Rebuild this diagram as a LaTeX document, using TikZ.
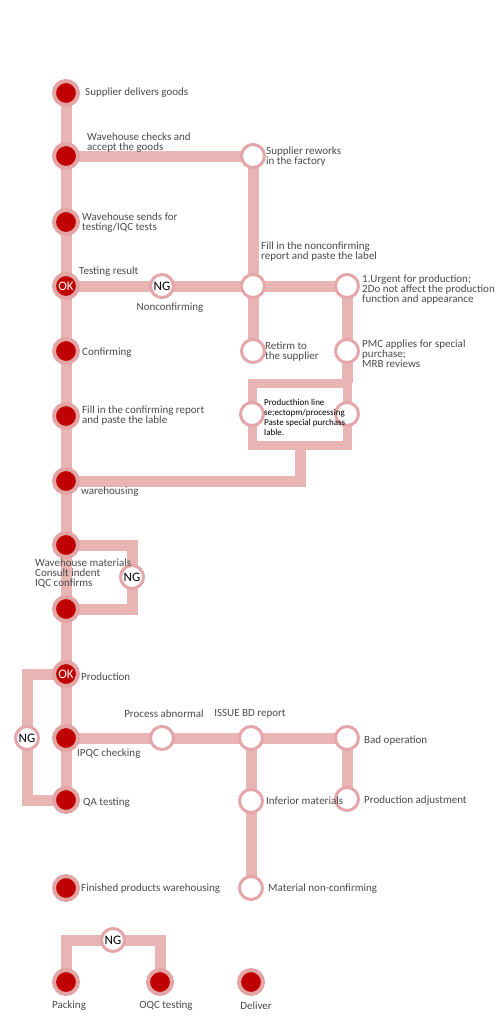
\documentclass[tikz,border=0pt]{standalone}
\usepackage{fontspec}
\setmainfont{Carlito}
\usetikzlibrary{backgrounds}
\definecolor{pipecol}{HTML}{E8B4B4}
\definecolor{halocol}{HTML}{E3A4A6}
\definecolor{darkred}{HTML}{C00000}
\definecolor{ringcol}{HTML}{E4A6A8}
\definecolor{txtcol}{HTML}{4A4A4A}

\begin{document}
\begin{tikzpicture}[x=1pt, y=-1pt,
  solidpt/.style={circle, inner sep=0, minimum size=24, fill=darkred, draw=halocol, line width=4},
  hollowpt/.style={circle, inner sep=0, minimum size=23, fill=white, draw=ringcol, line width=3},
  pipe/.style={draw=pipecol, line width=11},
  frame/.style={draw=pipecol, line width=9},
  lbl/.style={inner sep=0, align=left, text=txtcol, font=\fontsize{11}{10}\selectfont},
  boxlbl/.style={inner sep=0, align=left, text=black, font=\fontsize{9}{10}\selectfont},
  oktxt/.style={text=white, font=\fontsize{13}{13}\selectfont},
  ngtxt/.style={text=black, font=\fontsize{13}{13}\selectfont}]
  \useasboundingbox (0,0) rectangle (500,1034);

  % Incoming goods
  \node[solidpt] (deliv) at (66, 93) {};
  \node[solidpt] (check) at (66, 156) {};
  \node[hollowpt] (rework) at (253, 156) {};
  \node[solidpt] (send) at (66, 222) {};
  \node[solidpt, oktxt] (okone) at (66, 286) {OK};
  \node[hollowpt, ngtxt] (ngone) at (162, 286) {NG};
  \node[hollowpt] (fillnc) at (253, 286) {};
  \node[hollowpt] (urgent) at (347, 286) {};
  \node[hollowpt] (retirm) at (253, 351) {};
  \node[hollowpt] (pmc) at (347, 351) {};
  \node[hollowpt] (boxl) at (252, 414) {};
  \node[hollowpt] (boxr) at (347, 414) {};
  \node[solidpt] (conf) at (66, 351) {};
  \node[solidpt] (fillok) at (66, 416) {};
  \node[solidpt] (whs) at (66, 481) {};
  \coordinate (boxtl) at (252, 383);
  \coordinate (boxbr) at (347, 445);
  \coordinate (stem) at (300, 445);

  \node[lbl, anchor=west] (delivtxt) at (85, 93) {Supplier delivers goods};
  \node[lbl, anchor=west] (checktxt) at (87, 143) {Wavehouse checks and\\accept the goods};
  \node[lbl, anchor=west] (reworktxt) at (266, 157) {Supplier reworks\\in the factory};
  \node[lbl, anchor=west] (sendtxt) at (82, 223) {Wavehouse sends for\\testing/IQC tests};
  \node[lbl, anchor=west] (resulttxt) at (79, 272) {Testing result};
  \node[lbl] (nctxt) at (170, 308) {Nonconfirming};
  \node[lbl, anchor=west] (filltxt) at (261, 252) {Fill in the nonconfirming\\report and paste the label};
  \node[lbl, anchor=west] (urgenttxt) at (362, 290) {1.Urgent for production;\\2Do not affect the production\\function and appearance};
  \node[lbl, anchor=west] (retirmtxt) at (265, 352) {Retirm to\\the supplier};
  \node[lbl, anchor=west] (pmctxt) at (362, 354) {PMC applies for special\\purchase;\\MRB reviews};
  \node[boxlbl, anchor=west] (boxtxt) at (264, 417) {Producthion line\\se;ectopm/processing\\Paste special purchass\\lable.};
  \node[lbl, anchor=west] (conftxt) at (82, 353) {Confirming};
  \node[lbl, anchor=west] (filloktxt) at (82, 416) {Fill in the confirming report\\and paste the lable};
  \node[lbl, anchor=west] (whstxt) at (81, 492) {warehousing};

  % Materials and production
  \node[solidpt] (wmone) at (66, 545) {};
  \node[hollowpt, ngtxt] (ngtwo) at (132, 577) {NG};
  \node[solidpt] (wmtwo) at (66, 609) {};
  \node[solidpt, oktxt] (oktwo) at (66, 674) {OK};
  \node[hollowpt, ngtxt] (ngfour) at (27, 738) {NG};
  \node[solidpt] (ipqc) at (66, 738) {};
  \node[solidpt] (qa) at (66, 800) {};
  \node[hollowpt] (proc) at (162, 738) {};
  \node[hollowpt] (issue) at (251, 738) {};
  \node[hollowpt] (bad) at (347, 738) {};
  \node[hollowpt] (inferior) at (251, 801) {};
  \node[hollowpt] (prodadj) at (347, 799) {};
  \node[hollowpt] (matnc) at (251, 888) {};

  \node[lbl, anchor=west] (wmtxt) at (35, 573) {Wavehouse materials\\Consult indent\\IQC confirms};
  \node[lbl, anchor=west] (prodtxt) at (81, 677) {Production};
  \node[lbl] (proctxt) at (164, 714) {Process abnormal};
  \node[lbl] (issuetxt) at (250, 714) {ISSUE BD report};
  \node[lbl, anchor=west] (ipqctxt) at (77, 754) {IPQC checking};
  \node[lbl, anchor=west] (badtxt) at (364, 741) {Bad operation};
  \node[lbl, anchor=west] (qatxt) at (83, 803) {QA testing};
  \node[lbl, anchor=west] (inferiortxt) at (266, 801) {Inferior materials};
  \node[lbl, anchor=west] (prodadjtxt) at (364, 801) {Production adjustment};
  \node[lbl, anchor=west] (matnctxt) at (268, 889) {Material non-confirming};

  % Finished goods
  \node[solidpt] (fin) at (66, 888) {};
  \node[hollowpt, ngtxt] (ngthree) at (113, 940) {NG};
  \node[solidpt] (pack) at (66, 982) {};
  \node[solidpt] (oqc) at (160, 982) {};
  \node[solidpt] (ship) at (251, 982) {};

  \node[lbl, anchor=west] (fintxt) at (81, 889) {Finished products warehousing};
  \node[lbl] (packtxt) at (69, 1006) {Packing};
  \node[lbl] (oqctxt) at (166, 1006) {OQC testing};
  \node[lbl] (shiptxt) at (256, 1006) {Deliver};

  \begin{scope}[on background layer]
    \draw[pipe] (deliv.center) -- (qa.center);
    \draw[pipe] (check.center) -- (rework.center) -- (retirm.center);
    \draw[pipe] (okone.center) -- (urgent.center) -- (pmc.center) -- (boxtl -| pmc);
    \draw[frame] (boxtl) rectangle (boxbr);
    \draw[pipe] (stem) |- (whs.center);
    \draw[pipe] (wmone.center) -| (ngtwo.center) |- (wmtwo.center);
    \draw[pipe] (oktwo.center) -| (ngfour.center) |- (qa.center);
    \draw[pipe] (ipqc.center) -- (bad.center) -- (prodadj.center);
    \draw[pipe] (issue.center) -- (matnc.center);
    \draw[pipe] (pack.center) |- (ngthree.center) -| (oqc.center);
  \end{scope}
\end{tikzpicture}
\end{document}
